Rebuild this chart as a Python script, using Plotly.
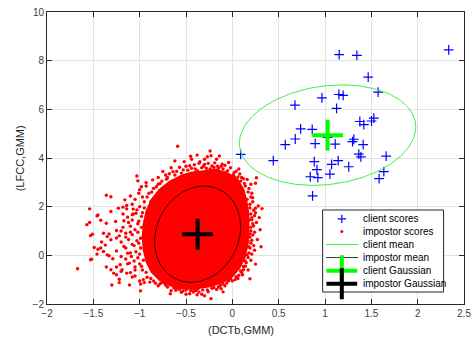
import numpy as np
import plotly.graph_objects as go

# ---------------- data ----------------
client_x = [1.153, 1.344, 2.335, 1.466, 1.573, 0.967, 1.150, 1.196, 0.676, 1.125,
            1.527, 1.502, 1.376, 1.419, 0.737, 0.862, 0.679, 0.571, 0.894, 1.110,
            1.311, 1.297, 1.412, 1.365, 1.387, 1.660, 0.090, 0.442, 0.884, 1.142,
            1.071, 1.256, 0.913, 0.841, 0.923, 1.053, 1.635, 1.584, 0.866, 1.030]
client_y = [8.25, 8.22, 8.44, 7.32, 6.71, 6.47, 6.61, 6.57, 6.17, 6.04,
            5.64, 5.52, 5.50, 5.37, 5.20, 5.18, 4.78, 4.55, 4.59, 4.57,
            4.77, 4.67, 4.55, 4.16, 4.05, 4.08, 4.15, 3.89, 3.85, 3.89,
            3.74, 3.64, 3.52, 3.23, 3.19, 3.34, 3.44, 3.15, 2.44, 4.85]

# dense core of the impostor cloud (outline of the solid red area)
imp_core_x = [-0.348, -0.186, -0.046, 0.051, 0.115, 0.148, 0.169, 0.169, 0.158, 0.126,
              0.072, -0.003, -0.111, -0.240, -0.391, -0.542, -0.671, -0.779, -0.865, -0.919,
              -0.952, -0.962, -0.952, -0.919, -0.865, -0.779, -0.671, -0.542, -0.434]
imp_core_y = [3.42, 3.51, 3.34, 3.10, 2.69, 2.20, 1.66, 1.05, 0.43, -0.10,
              -0.51, -0.84, -1.09, -1.25, -1.33, -1.33, -1.21, -1.00, -0.68, -0.27,
              0.23, 0.76, 1.29, 1.83, 2.28, 2.69, 3.01, 3.26, 3.38]

# individual impostor scores visible around the core
imp_x = [-1.02, -0.93, -1.36, -1.31, -1.10, -1.01, -1.16, -1.54, -1.31, -1.45,
         -1.46, -1.42, -1.36, -1.54, -1.57, -1.23, -1.14, -1.07, -1.26, -1.17,
         -1.13, -1.08, -1.51, -1.53, -1.39, -1.35, -1.33, -1.25, -1.20, -1.15,
         -1.41, -1.31, -1.25, -1.49, -1.45, -1.42, -1.37, -1.39, -1.33, -1.29,
         -1.35, -1.52, -1.53, -1.67, -1.46, -1.25, -1.20, -1.17, -1.13, -1.31,
         -1.19, -1.20, -1.30, -1.22, -1.11, -1.25, -1.36, -1.11, -1.06, -1.08,
         -0.99, -0.96, -1.22, -1.14, -1.03, -0.98, -1.18, -1.04, -1.03,
         -0.59, -0.24, -0.45, -0.38, -0.27, -0.23, -0.14, -0.62, -0.46, -0.36,
         -0.30, -0.11, -0.04, 0.07, -0.75, -0.64, -0.53, -0.22, -0.16, -0.93,
         -0.86, -0.71, -0.80, 0.02, 0.08, 0.16,
         0.26, 0.20, 0.25, 0.22, 0.28, 0.32, 0.25, 0.24, 0.21, 0.17,
         0.23, 0.22, 0.17, 0.24, 0.19, 0.17, 0.25, 0.14, 0.12, 0.09,
         0.02, 0.04, 0.19, -0.02, -0.06, -0.13, -0.20, -0.29, -0.37, -0.42,
         -0.23, -0.48,
         -0.99, -0.95, -0.89, -0.78, -0.73, -0.67, -0.61, -0.53, -0.46, -0.41,
         -0.36, -0.12, 0.12, -1.28, -1.25, -1.10, -1.05, -1.21,
         -0.90, -0.85, -0.78, -0.70, -0.62, -0.55, -0.48, -0.40, -0.33, -0.28,
         -0.20, -0.10, -0.05, 0.02, 0.10, 0.13, 0.18, 0.21, 0.19, 0.23,
         0.20, 0.22, 0.20, 0.19, 0.20, 0.18, 0.15, 0.10, 0.06, 0.00,
         -0.08, -0.17, -0.27, -0.33, -0.45, -0.55, -0.60, -0.70, -0.80, -0.85,
         -0.92, -0.97, -1.00, -1.02, -1.04, -1.06, -1.03, -1.08, -1.05, -1.02,
         -1.08, -0.98, -1.00, -0.95, -1.05, -0.97, -0.88, -0.82,
         -1.10, -1.12, -1.15, -1.09, -1.15, -1.08, -1.20, -1.18, -1.22,
         # speckled band just outside the solid core
         -0.68, -0.60, -0.57, -0.50, -0.44, -0.41, -0.38, -0.35, -0.31, -0.26,
         -0.24, -0.19, -0.15, -0.12, -0.08, -0.07, -0.02, 0.01, 0.04, 0.06,
         0.09, 0.12, 0.14, -0.52, -0.44, -0.30, -0.17, -0.66, -0.72, -0.80,
         0.17, 0.20, 0.16, 0.22, 0.19, 0.25, 0.21, 0.18, 0.26, 0.20,
         0.24, 0.19, 0.27, 0.21, 0.18, 0.23, 0.21, 0.16, 0.20, 0.14,
         0.17, 0.11, 0.07, 0.30, 0.29, 0.31,
         0.03, -0.04, -0.10, -0.15, -0.22, -0.26, -0.32, -0.39, -0.44, -0.50,
         -0.57, -0.63, -0.66, -0.72, -0.76, -0.83, -0.88, -0.38, -0.30, -0.50,
         -0.10,
         -0.93, -0.98, -0.96, -1.00, -0.99, -1.01, -0.99, -1.02, -0.98, -1.01,
         -0.97, -0.95, -0.92, -0.87, -0.82, -0.76, -1.10, -1.12, -1.07, -1.13,
         -1.05, -1.10, -1.15, -1.18, -1.08, -1.14, -1.00, -1.05, -1.00]
imp_y = [3.06, 2.85, 2.47, 2.41, 2.44, 2.55, 2.28, 1.91, 1.80, 1.66,
         1.62, 1.44, 1.32, 1.35, 1.26, 1.94, 1.91, 1.90, 1.39, 1.42,
         1.57, 1.67, 0.87, 0.81, 0.91, 0.77, 0.88, 1.02, 1.00, 0.91,
         0.55, 0.64, 0.71, 0.32, 0.25, 0.30, 0.42, 0.16, -0.02, -0.14,
         0.02, -0.16, -0.18, -0.55, 0.05, 0.18, -0.05, 0.36, 0.09, -0.59,
         -0.59, -0.66, -1.22, -1.12, -1.22, -0.48, -0.48, -0.32, -0.23, -0.89,
         -1.18, -1.00, -0.98, -0.73, 3.26, 2.82, 1.98, 1.73, 1.87,
         4.48, 4.29, 4.07, 4.12, 4.05, 4.09, 4.08, 3.88, 3.68, 3.78,
         3.74, 3.75, 3.82, 3.55, 3.45, 3.44, 3.51, 3.67, 3.66, 2.99,
         3.10, 3.13, 2.92, 3.23, 3.34, 3.12,
         3.19, 2.92, 2.96, 2.37, 2.03, 1.92, 1.94, 1.63, 1.46, 1.42,
         1.21, 0.84, 0.59, 0.21, 0.30, -0.09, -0.36, -0.23, -0.46, -0.64,
         -0.66, -0.88, -0.96, -0.96, -1.14, -1.24, -1.32, -1.28, -1.37, -1.51,
         -1.78, -1.35,
         -1.46, -1.12, -1.10, -1.17, -1.14, -1.58, -1.44, -1.46, -1.58, -1.44,
         -1.51, -1.37, -0.59, -0.73, -0.80, -0.71, -0.48, -0.39,
         2.55, 2.75, 2.95, 3.20, 3.30, 3.38, 3.50, 3.55, 3.60, 3.58,
         3.62, 3.55, 3.48, 3.40, 3.20, 2.95, 2.75, 2.55, 2.10, 1.85,
         1.70, 1.30, 1.00, 0.75, 0.50, 0.10, -0.30, -0.70, -0.95, -1.05,
         -1.25, -1.40, -1.42, -1.60, -1.45, -1.52, -1.35, -1.30, -1.25, -1.05,
         -0.90, -0.60, -0.35, -0.10, 0.15, 0.40, 0.60, 0.85, 1.05, 1.30,
         1.45, 1.60, 2.00, 2.20, 2.30, 2.40, 2.20, 2.45,
         1.20, 0.65, 0.30, -0.05, -0.15, 0.45, 0.55, 1.15, 0.80,
         3.35, 3.45, 3.62, 3.66, 3.58, 3.72, 3.48, 3.85, 3.66, 3.78,
         3.55, 3.80, 3.58, 3.66, 3.70, 3.42, 3.60, 3.30, 3.46, 3.22,
         3.05, 3.15, 2.85, 3.85, 3.95, 3.95, 3.95, 3.60, 3.30, 3.20,
         2.60, 2.40, 2.30, 2.20, 1.95, 1.75, 1.55, 1.45, 1.35, 1.15,
         0.95, 0.88, 0.65, 0.62, 0.35, 0.40, 0.05, 0.02, -0.20, -0.45,
         -0.60, -0.80, -0.82, 1.05, 1.55, 0.35,
         -1.00, -1.05, -1.18, -1.30, -1.35, -1.50, -1.42, -1.45, -1.36, -1.42,
         -1.40, -1.33, -1.45, -1.22, -1.12, -1.15, -0.95, -1.62, -1.66, -1.60,
         -1.50,
         -0.70, -0.45, -0.20, 0.05, 0.30, 0.50, 0.70, 0.95, 1.15, 1.40,
         1.75, 1.95, 2.40, 2.60, 2.82, 3.05, 0.95, 1.35, 1.70, -0.35,
         -0.60, 0.10, 0.75, 1.70, 2.10, 2.05, 2.70, -0.85, -1.05]

# Gaussian parameters (mean and covariance of the contour)
client_mean = [1.028, 4.94]
client_cov = [[0.906, 0.32], [0.32, 4.26]]
impostor_mean = [-0.375, 0.87]
impostor_cov = [[0.216, 0.14], [0.14, 3.92]]

legend_labels = ["client scores", "impostor scores", "client mean",
                 "impostor mean", "client Gaussian", "impostor Gaussian"]
x_title = "(DCTb,GMM)"
y_title = "(LFCC,GMM)"


def ellipse(mean, cov, n=200):
    t = np.linspace(0, 2 * np.pi, n)
    L = np.linalg.cholesky(np.array(cov))
    pts = L @ np.vstack([np.cos(t), np.sin(t)])
    return pts[0] + mean[0], pts[1] + mean[1]


cex, cey = ellipse(client_mean, client_cov)
iex, iey = ellipse(impostor_mean, impostor_cov)

FONT = "Liberation Sans, Arial, Helvetica, sans-serif"
BLUE, RED, GREEN, LGREEN, BLACK = "#0000ff", "#ff0000", "#00ff00", "#44ee44", "#000000"

fig = go.Figure()

# impostor cloud core (solid red area)
fig.add_trace(go.Scatter(x=imp_core_x + imp_core_x[:1], y=imp_core_y + imp_core_y[:1],
                         mode="lines", fill="toself", fillcolor=RED,
                         line=dict(color=RED, width=3), hoverinfo="skip"))
fig.add_trace(go.Scatter(x=imp_x, y=imp_y, mode="markers", name=legend_labels[1],
                         marker=dict(symbol="circle", size=3.4, color=RED)))
fig.add_trace(go.Scatter(x=client_x, y=client_y, mode="markers", name=legend_labels[0],
                         marker=dict(symbol="cross-thin", size=7,
                                     line=dict(color=BLUE, width=1.2))))
fig.add_trace(go.Scatter(x=cex, y=cey, mode="lines", name=legend_labels[2],
                         line=dict(color=LGREEN, width=1)))
fig.add_trace(go.Scatter(x=iex, y=iey, mode="lines", name=legend_labels[3],
                         line=dict(color=BLACK, width=0.8)))
fig.add_trace(go.Scatter(x=[client_mean[0]], y=[client_mean[1]], mode="markers",
                         name=legend_labels[4],
                         marker=dict(symbol="cross-thin", size=22,
                                     line=dict(color=GREEN, width=4))))
fig.add_trace(go.Scatter(x=[impostor_mean[0]], y=[impostor_mean[1]], mode="markers",
                         name=legend_labels[5],
                         marker=dict(symbol="cross-thin", size=22,
                                     line=dict(color=BLACK, width=4))))

# ---- legend (drawn on an overlay axis spanning the plot area, 0..1) ----
LX0, LX1, LY0, LY1 = 0.661, 0.951, 0.041, 0.322
rows = [0.2915, 0.248, 0.2037, 0.159, 0.1138, 0.0694]
SX, LL0, LL1, TX = 0.707, 0.669, 0.746, 0.752
leg = dict(xaxis="x2", yaxis="y2", hoverinfo="skip", showlegend=False)
fig.add_trace(go.Scatter(x=[LX0, LX1, LX1, LX0, LX0], y=[LY0, LY0, LY1, LY1, LY0],
                         mode="lines", fill="toself", fillcolor="white",
                         line=dict(color="#262626", width=1), **leg))
fig.add_trace(go.Scatter(x=[SX], y=[rows[0]], mode="markers",
                         marker=dict(symbol="cross-thin", size=6, line=dict(color=BLUE, width=1.2)), **leg))
fig.add_trace(go.Scatter(x=[SX], y=[rows[1]], mode="markers",
                         marker=dict(symbol="circle", size=3, color=RED), **leg))
fig.add_trace(go.Scatter(x=[LL0, LL1], y=[rows[2], rows[2]], mode="lines",
                         line=dict(color=LGREEN, width=1), **leg))
fig.add_trace(go.Scatter(x=[LL0, LL1], y=[rows[3], rows[3]], mode="lines",
                         line=dict(color=BLACK, width=0.8), **leg))
fig.add_trace(go.Scatter(x=[SX], y=[rows[4]], mode="markers",
                         marker=dict(symbol="cross-thin", size=22, line=dict(color=GREEN, width=4)), **leg))
fig.add_trace(go.Scatter(x=[SX], y=[rows[5]], mode="markers",
                         marker=dict(symbol="cross-thin", size=22, line=dict(color=BLACK, width=4)), **leg))
for lab, ry in zip(legend_labels, rows):
    fig.add_annotation(x=TX, y=ry, xref="paper", yref="paper", text=lab, showarrow=False,
                       xanchor="left", yanchor="middle",
                       font=dict(family=FONT, size=10, color="#000000"))

# axis titles
fig.add_annotation(x=0.465, y=-0.088, xref="paper", yref="paper", text=x_title,
                   showarrow=False, xanchor="center", yanchor="middle",
                   font=dict(family=FONT, size=11, color="#262626"))
fig.add_annotation(x=-0.064, y=0.5, xref="paper", yref="paper", text=y_title,
                   showarrow=False, xanchor="center", yanchor="middle", textangle=-90,
                   font=dict(family=FONT, size=11, color="#262626"))

axis_common = dict(showline=True, linecolor="#262626", linewidth=1, mirror="ticks",
                   ticks="inside", ticklen=5, tickcolor="#262626", showgrid=True,
                   gridcolor="#e3e3e3", gridwidth=1, zeroline=False, automargin=False,
                   tickfont=dict(family=FONT, size=10, color="#404040"))

fig.update_xaxes(range=[-2, 2.5], dtick=0.5, tick0=-2, **axis_common)
fig.update_yaxes(range=[-2, 10], dtick=2, tick0=-2, **axis_common)

fig.update_layout(
    width=473, height=338,
    margin=dict(l=47, r=9, t=12, b=34, autoexpand=False),
    plot_bgcolor="white", paper_bgcolor="white",
    showlegend=False,
    xaxis2=dict(overlaying="x", range=[0, 1], visible=False, fixedrange=True),
    yaxis2=dict(overlaying="y", range=[0, 1], visible=False, fixedrange=True),
)

fig.write_html("out.html", config={"displayModeBar": False},
               post_script="document.body.style.margin='0';document.body.style.padding='0';")
